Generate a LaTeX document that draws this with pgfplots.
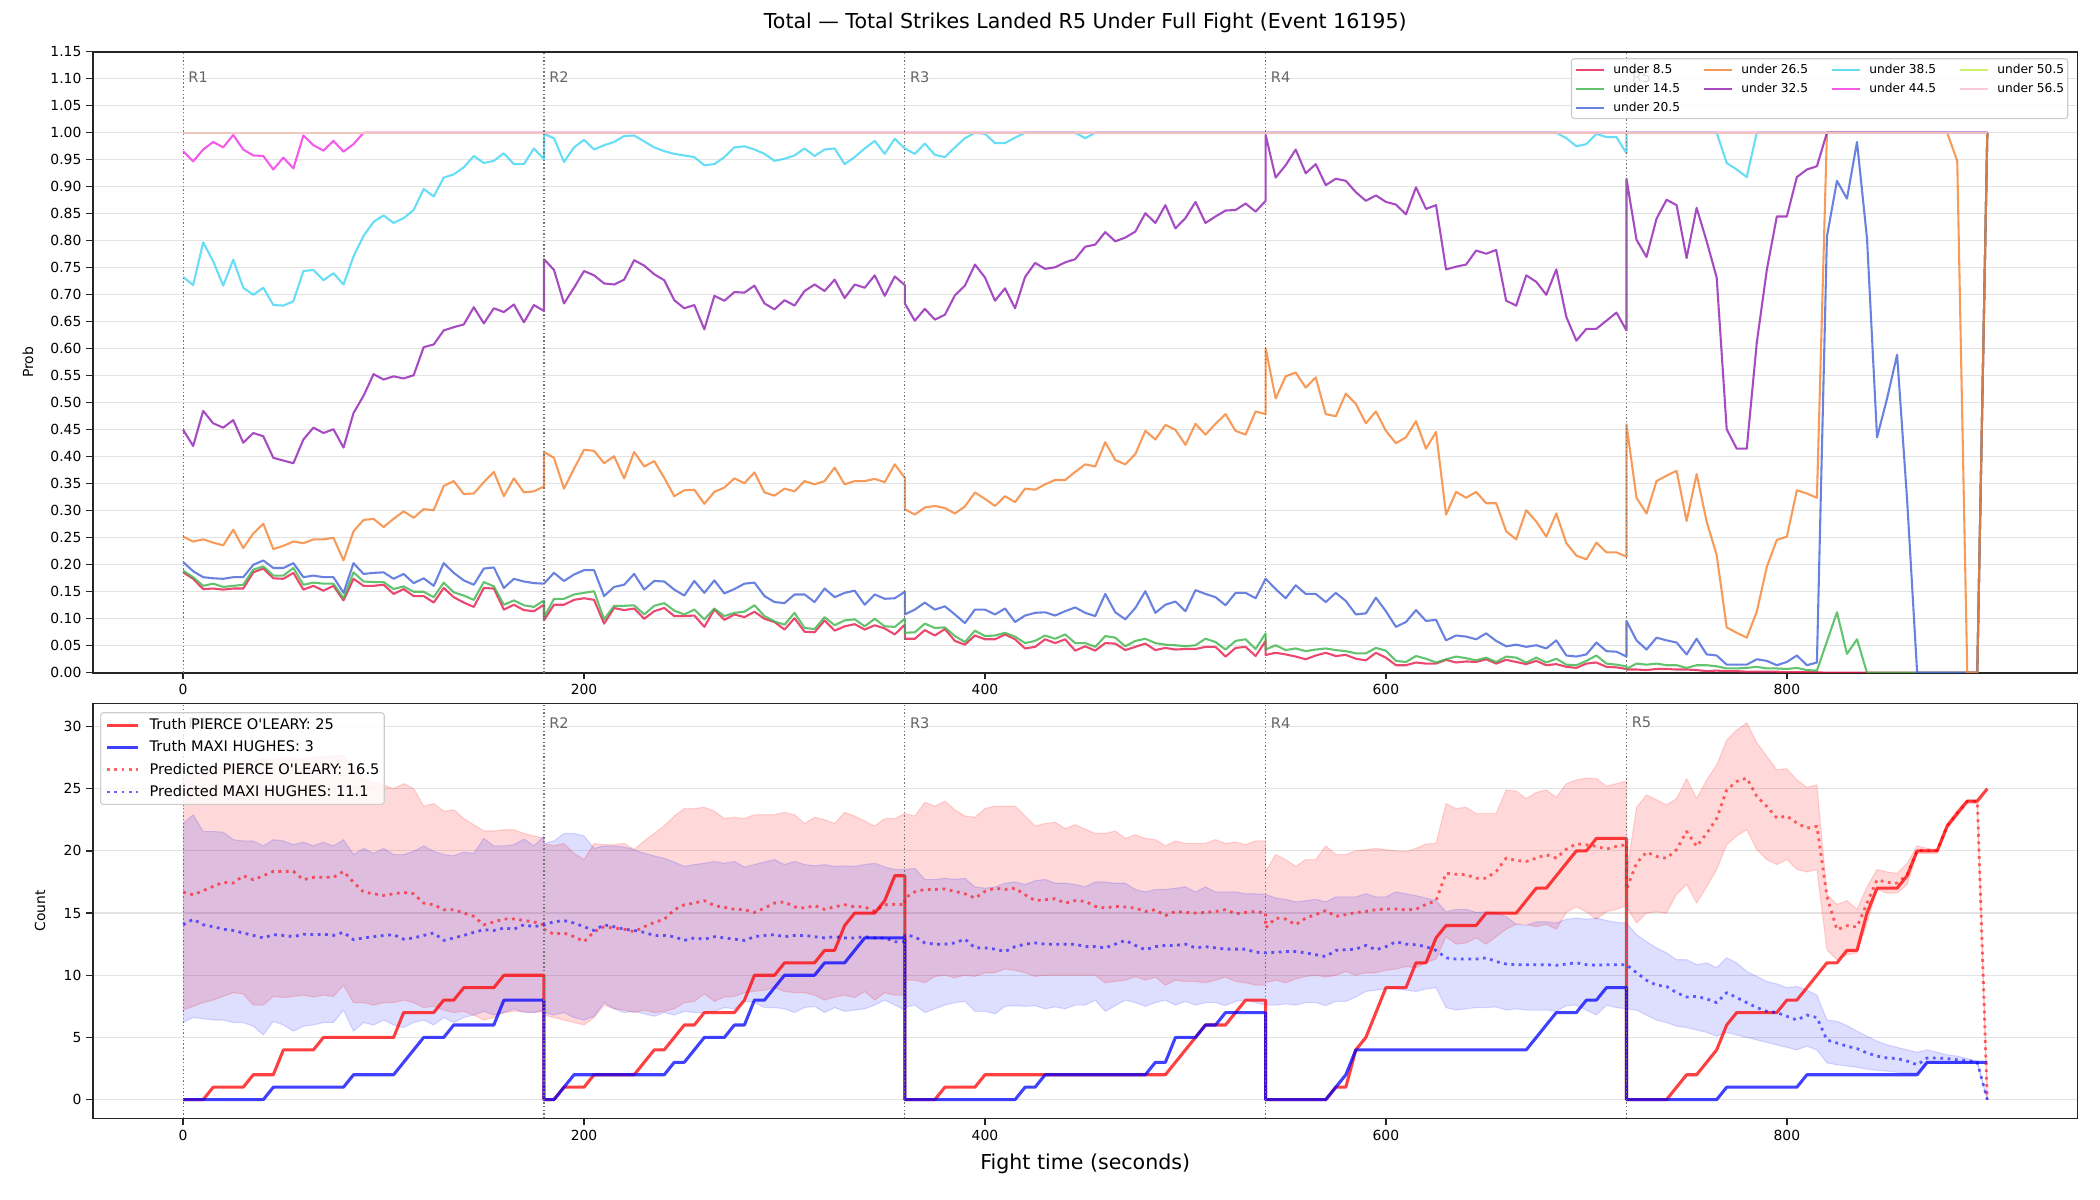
\documentclass[border=0pt]{standalone}
\usepackage{fontspec}
\setmainfont{DejaVu Sans}
\usepackage{pgfplots}
\usepackage{pgfplotstable}
\pgfplotsset{compat=1.18}

\definecolor{c8}{HTML}{E6194B}
\definecolor{c14}{HTML}{3CB44B}
\definecolor{c20}{HTML}{4363D8}
\definecolor{c26}{HTML}{F58231}
\definecolor{c32}{HTML}{911EB4}
\definecolor{c38}{HTML}{42D4F4}
\definecolor{c44}{HTML}{F032E6}
\definecolor{c50}{HTML}{BFEF45}
\definecolor{c56}{HTML}{FABED4}

% Probability that the total lands under each line, sampled every 5 s.
% Rows at 180/360/540/720 appear twice: end of one round, start of the next.
\pgfplotstableread{
t u8 u14 u20 u26 u32 u38 u44
0 0.186 0.189 0.205 0.252 0.450 0.733 0.966
5 0.174 0.177 0.188 0.243 0.420 0.718 0.947
10 0.155 0.161 0.177 0.247 0.485 0.797 0.969
15 0.156 0.165 0.175 0.241 0.462 0.762 0.983
20 0.154 0.159 0.174 0.236 0.454 0.717 0.973
25 0.156 0.161 0.177 0.265 0.468 0.765 0.996
30 0.156 0.163 0.177 0.231 0.426 0.713 0.969
35 0.186 0.191 0.200 0.258 0.444 0.700 0.958
40 0.193 0.197 0.208 0.276 0.438 0.713 0.957
45 0.175 0.180 0.194 0.229 0.398 0.681 0.932
50 0.174 0.180 0.194 0.235 0.393 0.680 0.954
55 0.185 0.194 0.203 0.243 0.388 0.688 0.934
60 0.154 0.163 0.177 0.240 0.432 0.744 0.995
65 0.161 0.167 0.180 0.247 0.454 0.746 0.977
70 0.152 0.165 0.177 0.247 0.444 0.727 0.967
75 0.161 0.165 0.177 0.250 0.451 0.740 0.985
80 0.134 0.138 0.148 0.208 0.417 0.719 0.965
85 0.174 0.186 0.203 0.262 0.481 0.771 0.979
90 0.161 0.169 0.183 0.283 0.513 0.809 1
95 0.161 0.168 0.185 0.285 0.553 0.835 1
100 0.163 0.168 0.186 0.270 0.543 0.847 1
105 0.146 0.155 0.174 0.285 0.549 0.833 1
110 0.155 0.160 0.183 0.299 0.545 0.842 1
115 0.142 0.150 0.166 0.287 0.551 0.857 1
120 0.142 0.150 0.175 0.303 0.603 0.896 1
125 0.130 0.140 0.161 0.301 0.608 0.882 1
130 0.157 0.167 0.203 0.346 0.634 0.917 1
135 0.140 0.149 0.185 0.355 0.640 0.923 1
140 0.130 0.143 0.171 0.331 0.645 0.936 1
145 0.122 0.135 0.163 0.332 0.677 0.957 1
150 0.157 0.168 0.193 0.353 0.647 0.944 1
155 0.156 0.160 0.195 0.372 0.675 0.948 1
160 0.117 0.126 0.157 0.327 0.668 0.962 1
165 0.126 0.134 0.174 0.360 0.682 0.942 1
170 0.116 0.125 0.169 0.334 0.649 0.942 1
175 0.114 0.122 0.166 0.336 0.681 0.971 1
180 0.126 0.134 0.165 0.345 0.670 0.951 1
180 0.097 0.102 0.165 0.409 0.766 0.998 1
185 0.126 0.137 0.185 0.398 0.746 0.990 1
190 0.126 0.137 0.170 0.341 0.684 0.946 1
195 0.135 0.145 0.182 0.378 0.713 0.973 1
200 0.138 0.148 0.190 0.413 0.744 0.987 1
205 0.135 0.151 0.190 0.411 0.736 0.969 1
210 0.091 0.099 0.142 0.388 0.721 0.977 1
215 0.120 0.124 0.159 0.401 0.719 0.983 1
220 0.116 0.124 0.163 0.360 0.728 0.994 1
225 0.119 0.125 0.183 0.409 0.764 0.995 1
230 0.100 0.108 0.154 0.382 0.754 0.984 1
235 0.114 0.124 0.170 0.392 0.738 0.973 1
240 0.120 0.129 0.169 0.361 0.727 0.966 1
245 0.105 0.115 0.154 0.327 0.690 0.961 1
250 0.105 0.108 0.143 0.338 0.675 0.958 1
255 0.106 0.117 0.170 0.339 0.681 0.955 1
260 0.085 0.099 0.148 0.313 0.636 0.940 1
265 0.117 0.119 0.171 0.335 0.698 0.942 1
270 0.098 0.105 0.147 0.343 0.689 0.955 1
275 0.108 0.111 0.155 0.360 0.705 0.973 1
280 0.103 0.113 0.165 0.351 0.704 0.975 1
285 0.113 0.125 0.167 0.371 0.717 0.969 1
290 0.100 0.105 0.142 0.334 0.684 0.961 1
295 0.094 0.095 0.131 0.328 0.673 0.948 1
300 0.080 0.089 0.129 0.341 0.690 0.952 1
305 0.101 0.111 0.145 0.336 0.680 0.958 1
310 0.076 0.083 0.145 0.355 0.707 0.971 1
315 0.075 0.081 0.131 0.349 0.719 0.957 1
320 0.097 0.103 0.156 0.355 0.707 0.969 1
325 0.078 0.088 0.140 0.380 0.728 0.971 1
330 0.086 0.097 0.148 0.349 0.694 0.942 1
335 0.090 0.099 0.152 0.355 0.719 0.955 1
340 0.080 0.086 0.126 0.355 0.713 0.971 1
345 0.088 0.100 0.145 0.359 0.736 0.985 1
350 0.082 0.086 0.137 0.353 0.698 0.961 1
355 0.071 0.085 0.138 0.386 0.734 0.989 1
360 0.089 0.100 0.150 0.361 0.718 0.971 1
360 0.063 0.074 0.108 0.303 0.684 0.971 1
365 0.063 0.075 0.117 0.293 0.652 0.961 1
370 0.079 0.091 0.130 0.306 0.674 0.980 1
375 0.069 0.083 0.117 0.309 0.654 0.959 1
380 0.081 0.084 0.123 0.305 0.663 0.955 1
385 0.059 0.068 0.108 0.295 0.699 0.973 1
390 0.052 0.057 0.092 0.308 0.717 0.990 1
395 0.069 0.078 0.117 0.334 0.756 1 1
400 0.062 0.068 0.117 0.322 0.732 0.998 1
405 0.062 0.069 0.108 0.309 0.689 0.981 1
410 0.071 0.074 0.119 0.327 0.712 0.981 1
415 0.062 0.067 0.094 0.316 0.675 0.991 1
420 0.045 0.055 0.106 0.341 0.733 1 1
425 0.048 0.059 0.111 0.339 0.759 1 1
430 0.062 0.069 0.112 0.349 0.748 1 1
435 0.055 0.063 0.106 0.357 0.751 1 1
440 0.062 0.071 0.114 0.357 0.760 1 1
445 0.041 0.055 0.121 0.372 0.766 1 1
450 0.049 0.055 0.111 0.386 0.789 0.990 1
455 0.041 0.048 0.105 0.382 0.793 1 1
460 0.055 0.068 0.146 0.427 0.816 1 1
465 0.054 0.065 0.112 0.394 0.799 1 1
470 0.042 0.049 0.099 0.386 0.806 1 1
475 0.048 0.059 0.120 0.405 0.817 1 1
480 0.054 0.063 0.151 0.448 0.851 1 1
485 0.042 0.055 0.111 0.432 0.833 1 1
490 0.046 0.052 0.126 0.459 0.866 1 1
495 0.043 0.051 0.132 0.450 0.823 1 1
500 0.044 0.049 0.114 0.422 0.842 1 1
505 0.044 0.051 0.153 0.461 0.872 1 1
510 0.048 0.063 0.146 0.441 0.833 1 1
515 0.048 0.057 0.140 0.461 0.845 1 1
520 0.030 0.043 0.125 0.479 0.856 1 1
525 0.046 0.059 0.148 0.448 0.857 1 1
530 0.048 0.062 0.148 0.441 0.869 1 1
535 0.031 0.044 0.138 0.484 0.854 1 1
540 0.059 0.073 0.174 0.479 0.874 1 1
540 0.033 0.043 0.174 0.601 0.996 1 1
545 0.037 0.051 0.155 0.508 0.917 1 1
550 0.034 0.042 0.138 0.549 0.940 1 1
555 0.030 0.045 0.162 0.556 0.969 1 1
560 0.025 0.040 0.146 0.528 0.925 1 1
565 0.032 0.043 0.146 0.547 0.942 1 1
570 0.037 0.045 0.131 0.479 0.903 1 1
575 0.031 0.042 0.148 0.475 0.915 1 1
580 0.033 0.040 0.133 0.517 0.911 1 1
585 0.026 0.036 0.108 0.498 0.890 1 1
590 0.023 0.036 0.110 0.462 0.874 1 1
595 0.037 0.046 0.139 0.484 0.884 1 1
600 0.028 0.041 0.114 0.448 0.872 1 1
605 0.014 0.022 0.085 0.425 0.867 1 1
610 0.014 0.020 0.094 0.436 0.849 1 1
615 0.019 0.031 0.116 0.466 0.899 1 1
620 0.017 0.026 0.096 0.415 0.859 1 1
625 0.017 0.019 0.098 0.446 0.866 1 1
630 0.024 0.025 0.060 0.293 0.747 1 1
635 0.019 0.030 0.069 0.335 0.752 1 1
640 0.021 0.027 0.067 0.324 0.756 1 1
645 0.020 0.023 0.062 0.335 0.782 1 1
650 0.025 0.028 0.073 0.314 0.776 1 1
655 0.017 0.020 0.059 0.314 0.783 1 1
660 0.024 0.030 0.049 0.262 0.689 1 1
665 0.020 0.028 0.052 0.247 0.680 1 1
670 0.016 0.019 0.048 0.301 0.736 1 1
675 0.022 0.028 0.051 0.280 0.724 1 1
680 0.014 0.019 0.045 0.252 0.700 1 1
685 0.016 0.026 0.060 0.295 0.747 1 1
690 0.011 0.015 0.032 0.240 0.659 0.990 1
695 0.009 0.014 0.030 0.217 0.615 0.975 1
700 0.017 0.022 0.034 0.210 0.637 0.979 1
705 0.019 0.032 0.056 0.241 0.637 0.998 1
710 0.011 0.017 0.040 0.223 0.652 0.992 1
715 0.010 0.015 0.039 0.223 0.667 0.992 1
720 0.007 0.012 0.030 0.215 0.634 0.962 1
720 0.006 0.007 0.096 0.460 0.915 1 1
725 0.006 0.017 0.060 0.324 0.802 1 1
730 0.005 0.015 0.043 0.295 0.770 1 1
735 0.007 0.017 0.065 0.355 0.841 1 1
740 0.007 0.014 0.060 0.365 0.876 1 1
745 0.006 0.014 0.056 0.374 0.866 1 1
750 0.006 0.009 0.034 0.281 0.768 1 1
755 0.005 0.014 0.063 0.368 0.861 1 1
760 0.003 0.014 0.034 0.280 0.799 1 1
765 0.004 0.012 0.032 0.218 0.732 1 1
770 0.003 0.008 0.015 0.084 0.451 0.944 1
775 0.003 0.008 0.015 0.074 0.415 0.932 1
780 0.002 0.009 0.015 0.065 0.415 0.918 1
785 0.002 0.011 0.025 0.113 0.611 1 1
790 0.002 0.008 0.022 0.196 0.746 1 1
795 0.002 0.008 0.014 0.246 0.845 1 1
800 0.001 0.007 0.020 0.252 0.845 1 1
805 0.001 0.009 0.032 0.338 0.918 1 1
810 0.001 0.005 0.014 0.332 0.932 1 1
815 0.001 0.004 0.019 0.324 0.938 1 1
820 0 0.058 0.808 1 1 1 1
825 0 0.112 0.911 1 1 1 1
830 0 0.035 0.878 1 1 1 1
835 0 0.062 0.983 1 1 1 1
840 0 0 0.804 1 1 1 1
845 0 0 0.436 1 1 1 1
850 0 0 0.508 1 1 1 1
855 0 0 0.589 1 1 1 1
860 0 0 0.320 1 1 1 1
865 0 0 0 1 1 1 1
870 0 0 0 1 1 1 1
875 0 0 0 1 1 1 1
880 0 0 0 1 1 1 1
885 0 0 0 0.948 1 1 1
890 0 0 0 0 1 1 1
895 0 0 0 0 1 1 1
900 1 1 1 1 1 1 1
}\probtable

% Strike counts: truth (tr, tb), prediction (pr, pb) and its band (lo/hi).
\pgfplotstableread{
t tr tb pr prlo prhi pb pblo pbhi
0 0 0 16.69 7.2 26.0 14.06 6.2 22.2
5 0 0 16.47 7.5 26.2 14.5 6.6 22.9
10 0 0 16.8 7.8 26.4 14.06 6.5 21.56
15 1 0 17.14 8.0 26.6 13.9 6.4 21.56
20 1 0 17.47 8.3 26.8 13.7 6.4 21.5
25 1 0 17.41 8.6 27.0 13.6 6.2 20.9
30 1 0 18.0 8.5 27.0 13.4 6.2 20.8
35 2 0 17.68 7.6 27.2 13.2 5.9 20.8
40 2 0 18.0 7.6 27.4 13.0 5.2 20.4
45 2 1 18.35 8.3 27.3 13.26 6.3 20.9
50 4 1 18.35 8.2 27.5 13.2 6.0 20.8
55 4 1 18.35 8.3 27.4 13.1 5.5 20.5
60 4 1 17.68 8.4 27.4 13.3 5.9 20.7
65 4 1 17.87 8.25 27.5 13.26 6.0 20.4
70 5 1 17.87 8.4 27.6 13.3 6.2 20.7
75 5 1 17.87 8.3 27.6 13.2 6.2 20.4
80 5 1 18.35 9.2 27.7 13.45 7.2 20.9
85 5 2 17.47 7.8 26.5 12.86 5.5 19.7
90 5 2 16.69 7.8 25.8 13.0 6.2 20.2
95 5 2 16.55 7.6 25.5 13.1 6.0 19.8
100 5 2 16.42 7.8 25.3 13.2 6.4 20.2
105 5 2 16.55 7.8 25.0 13.26 6.0 19.7
110 7 3 16.66 8.0 25.4 12.9 5.8 19.7
115 7 4 16.55 7.8 25.0 13.0 6.2 19.96
120 7 5 15.8 7.4 23.6 13.2 6.4 20.4
125 7 5 15.67 7.5 23.8 13.4 6.0 19.96
130 8 5 15.27 7.2 23.2 12.8 6.6 19.7
135 8 6 15.27 7.0 23.3 13.0 6.2 19.6
140 9 6 15.0 7.1 22.6 13.2 6.6 19.9
145 9 6 14.73 6.8 22.1 13.45 6.8 19.8
150 9 6 14.06 6.4 21.6 13.66 7.1 21.0
155 9 6 14.28 6.6 21.6 13.6 6.8 20.4
160 10 8 14.52 7.0 21.7 13.8 7.0 20.4
165 10 8 14.52 7.1 21.7 13.7 7.3 20.5
170 10 8 14.41 7.1 21.4 14.06 7.0 20.95
175 10 8 14.28 7.0 21.2 13.9 7.0 20.4
180 10 8 14.06 7.1 21.0 14.06 7.2 21.2
180 0 0 13.7 6.8 20.6 14.06 7.0 20.6
185 0 0 13.3 6.6 20.4 14.3 6.8 20.8
190 1 1 13.4 6.4 20.6 14.4 7.0 21.4
195 1 2 13.1 6.2 19.8 14.2 6.6 21.4
200 1 2 12.7 6.0 19.3 13.9 6.4 21.2
205 2 2 13.5 6.6 20.6 13.6 6.7 20.2
210 2 2 13.9 7.6 20.5 14.06 7.8 20.4
215 2 2 13.8 7.3 20.5 13.9 7.3 20.4
220 2 2 13.7 7.2 20.6 13.7 7.0 20.3
225 2 2 13.5 7.0 20.1 13.6 7.1 20.1
230 3 2 13.9 7.2 20.8 13.45 6.9 19.8
235 4 2 14.25 7.0 21.4 13.2 6.7 19.6
240 4 2 14.5 7.1 22.0 13.2 7.0 19.4
245 5 3 15.27 7.3 22.8 13.1 6.8 19.1
250 6 3 15.67 7.8 23.4 12.8 7.1 18.75
255 6 4 15.8 7.9 23.4 13.0 7.0 18.9
260 7 5 16.0 8.5 23.5 12.9 7.0 19.0
265 7 5 15.6 7.9 23.2 13.1 7.1 19.15
270 7 5 15.46 8.25 22.6 13.0 7.4 19.0
275 7 6 15.3 8.3 22.7 12.9 7.3 19.15
280 8 6 15.27 8.6 22.6 12.8 7.9 18.7
285 10 8 15.05 8.7 22.9 13.1 7.8 18.9
290 10 8 15.4 8.8 22.9 13.2 7.4 19.1
295 10 9 15.8 9.0 22.9 13.26 7.4 19.3
300 11 10 15.9 8.7 23.1 13.1 7.3 18.9
305 11 10 15.5 8.6 22.9 13.2 7.0 19.15
310 11 10 15.4 8.6 22.2 13.2 7.4 18.9
315 11 10 15.6 8.4 22.7 13.1 7.5 18.8
320 12 11 15.3 8.0 22.5 13.0 7.0 18.9
325 12 11 15.5 8.25 22.2 13.1 7.4 18.75
330 14 11 15.67 8.4 23.1 13.0 7.1 18.8
335 15 12 15.5 8.2 22.8 13.0 7.2 18.75
340 15 13 15.5 8.7 22.4 13.1 7.3 18.9
345 15 13 15.13 8.0 22.0 13.0 7.6 19.0
350 16 13 15.67 8.6 22.6 13.0 8.0 18.7
355 18 13 15.7 8.4 22.6 12.7 7.6 18.5
360 18 13 15.67 8.4 23.0 12.7 7.2 18.5
360 0 0 16.2 9.6 23.0 13.26 7.4 18.5
365 0 0 16.7 9.6 22.8 13.1 7.6 18.6
370 0 0 16.9 9.4 23.9 12.6 7.0 17.7
375 0 0 16.9 9.9 23.6 12.5 7.3 17.7
380 1 0 16.93 10.0 24.0 12.5 7.6 17.8
385 1 0 16.74 9.8 23.3 12.6 7.8 17.7
390 1 0 16.55 10.0 22.8 12.9 7.9 17.8
395 1 0 16.2 9.9 22.7 12.2 7.1 17.1
400 2 0 16.74 10.2 23.4 12.2 7.1 17.0
405 2 0 17.0 10.2 23.6 12.1 6.9 17.1
410 2 0 16.9 10.5 23.6 11.9 7.5 17.4
415 2 0 17.0 10.4 23.6 12.3 7.55 17.5
420 2 1 16.47 10.2 22.8 12.5 7.5 17.3
425 2 1 16.0 9.9 22.0 12.6 7.55 17.6
430 2 2 16.07 10.0 22.2 12.5 7.3 17.7
435 2 2 16.15 10.0 22.3 12.5 7.45 17.4
440 2 2 15.8 10.0 21.8 12.5 7.3 17.4
445 2 2 16.0 10.0 22.1 12.5 7.6 17.3
450 2 2 15.94 10.0 21.75 12.3 7.6 17.1
455 2 2 15.54 10.0 21.4 12.3 8.0 17.5
460 2 2 15.4 9.4 21.4 12.2 7.1 17.5
465 2 2 15.54 9.5 21.6 12.5 7.55 17.4
470 2 2 15.48 9.6 21.0 12.8 8.0 17.4
475 2 2 15.4 9.9 21.3 12.4 7.8 16.9
480 2 2 15.13 9.6 21.0 12.05 7.5 16.7
485 2 3 15.27 9.85 20.9 12.3 7.8 16.9
490 2 3 14.8 9.2 20.4 12.4 8.0 16.9
495 3 5 15.13 9.6 20.8 12.4 7.6 17.0
500 4 5 15.05 9.5 20.6 12.5 7.9 17.1
505 5 5 15.0 9.5 20.6 12.2 7.6 16.7
510 6 6 15.05 9.4 20.6 12.3 7.8 17.1
515 6 6 15.13 9.6 20.9 12.2 7.8 16.7
520 6 7 15.27 9.85 20.6 12.1 7.55 16.7
525 7 7 14.95 9.5 20.7 12.1 7.9 16.7
530 8 7 15.05 9.4 20.5 12.1 8.0 16.55
535 8 7 15.13 9.2 20.8 11.85 7.8 16.55
540 8 7 15.0 9.2 20.8 11.8 7.6 16.5
540 0 0 13.8 9.4 18.35 11.8 7.6 16.5
545 0 0 14.6 9.6 19.7 11.85 7.6 16.2
550 0 0 14.52 9.4 19.3 11.9 7.7 16.1
555 0 0 14.06 9.7 18.75 11.9 7.6 15.9
560 0 0 14.6 9.9 19.3 11.8 7.8 16.0
565 0 0 14.87 10.0 19.3 11.65 7.8 16.1
570 0 0 15.2 9.85 20.4 11.5 7.55 15.9
575 1 1 14.73 10.0 19.7 12.0 7.9 16.3
580 1 2 14.87 10.3 19.7 12.05 7.9 16.3
585 4 4 15.05 10.0 20.0 12.1 8.25 16.3
590 5 4 15.13 10.2 20.1 12.4 8.7 16.55
595 7 4 15.27 10.2 20.2 12.05 8.8 16.3
600 9 4 15.32 10.4 20.1 12.3 8.9 16.3
605 9 4 15.32 10.5 20.0 12.7 8.9 16.7
610 9 4 15.25 10.7 19.95 12.5 8.8 16.55
615 11 4 15.3 10.6 20.2 12.45 8.7 16.4
620 11 4 15.7 11.0 20.55 12.3 8.9 16.2
625 13 4 16.0 11.3 20.6 12.0 9.0 16.0
630 14 4 18.2 13.1 23.8 11.4 7.4 15.1
635 14 4 18.12 12.5 23.4 11.3 7.2 15.3
640 14 4 18.08 12.6 23.5 11.3 7.3 15.3
645 14 4 17.8 13.0 23.0 11.3 7.4 15.05
650 15 4 17.8 12.5 23.0 11.4 7.4 15.1
655 15 4 18.35 13.1 23.0 11.1 7.45 15.05
660 15 4 19.42 13.7 24.9 10.9 7.2 14.7
665 15 4 19.23 14.1 24.8 10.85 7.3 14.1
670 16 4 19.15 14.1 24.2 10.85 7.2 14.0
675 17 5 19.42 13.9 24.7 10.85 7.2 14.3
680 17 6 19.69 14.1 24.9 10.85 7.2 14.3
685 18 7 19.42 13.7 24.3 10.8 7.1 14.2
690 19 7 20.14 15.05 25.4 10.9 7.55 14.5
695 20 7 20.57 15.5 25.7 11.0 7.6 14.6
700 20 8 20.49 15.1 25.85 10.85 7.2 14.5
705 21 8 20.36 14.5 25.8 10.8 6.8 14.6
710 21 9 20.14 15.1 25.2 10.85 7.6 14.4
715 21 9 20.36 15.3 25.4 10.85 7.4 14.25
720 21 9 20.49 15.6 25.6 10.85 7.3 14.2
720 0 0 16.9 15.5 18.0 10.85 7.3 14.2
725 0 0 19.0 14.2 23.5 10.2 7.2 13.26
730 0 0 19.9 15.0 24.5 9.6 6.8 12.7
735 0 0 19.55 15.1 24.1 9.2 6.4 12.2
740 0 0 19.4 15.0 23.7 9.1 6.2 11.8
745 1 0 20.1 16.5 24.2 8.6 5.9 11.25
750 2 0 21.56 17.3 25.8 8.25 5.8 11.25
755 2 0 20.36 15.8 24.2 8.3 5.6 10.85
760 3 0 21.4 17.1 25.7 8.1 5.4 11.0
765 4 0 22.6 18.5 26.9 7.8 5.1 10.6
770 6 1 24.9 20.5 28.9 8.6 5.4 11.4
775 7 1 25.58 21.2 29.7 8.2 5.2 11.0
780 7 1 25.85 21.7 30.3 7.8 5.0 10.3
785 7 1 24.38 20.1 28.7 7.4 4.8 9.9
790 7 1 23.57 19.3 27.6 7.1 4.6 9.5
795 7 1 22.64 18.9 26.5 7.0 4.4 9.3
800 8 1 22.8 19.3 26.6 6.7 4.2 9.0
805 8 1 22.23 18.5 25.7 6.4 4.0 9.1
810 9 2 21.83 18.3 25.1 6.8 4.3 8.8
815 10 2 21.97 18.5 25.3 6.6 4.0 8.4
820 11 2 16.34 12.05 16.5 4.8 2.95 6.4
825 11 2 13.66 11.25 15.7 4.55 2.8 6.3
830 12 2 13.98 11.65 16.0 4.3 2.7 5.95
835 12 2 13.88 11.8 15.3 4.1 2.6 5.5
840 15 2 15.8 14.2 17.1 3.75 2.45 5.1
845 17 2 17.68 16.9 18.5 3.5 2.35 4.7
850 17 2 17.47 16.6 18.3 3.35 2.3 4.4
855 17 2 17.41 16.6 18.2 3.3 2.2 4.2
860 18 2 18.08 17.3 19.0 3.1 2.15 4.0
865 20 2 20.04 19.8 20.4 2.8 2.15 3.8
870 20 3 20.04 19.8 20.2 3.35 2.95 4.0
875 20 3 20.04 19.8 20.1 3.35 2.9 3.8
880 22 3 22.0 21.8 22.2 3.3 2.9 3.6
885 23 3 23.04 22.8 23.3 3.2 2.9 3.5
890 24 3 23.97 23.8 24.1 3.15 2.9 3.3
895 24 3 23.97 23.8 24.1 3.0 2.9 3.1
900 25 3 0 0 0 0 0 0
}\counttable

\pgfplotsset{
  fightaxis/.style={
    scale only axis, width=1429pt,
    xmin=-45, xmax=945,
    xtick={0,200,400,600,800},
    tick pos=left, tick align=outside,
    major tick length=4.8pt,
    tick style={black!85, line width=1pt},
    axis line style={black!85, line width=1.25pt},
    ymajorgrids,
    major grid style={black!11, line width=0.9pt},
    tick label style={font=\fontsize{10}{12}\selectfont},
    /pgf/number format/assume math mode=true,
    every axis plot/.append style={line join=round},
  },
  roundline/.style={black!55, line width=0.9pt, dash pattern=on 1pt off 1.65pt, forget plot},
  prob/.style={line width=1.5pt, opacity=0.8, forget plot},
  bandedge/.style={line width=0.8pt, forget plot},
}
\tikzset{
  roundlabel/.style={anchor=west, inner sep=0pt, text=black!60, font=\fontsize{10.5}{12}\selectfont},
}

\begin{document}
\begin{tikzpicture}
\useasboundingbox (0,0) rectangle (1512pt,864pt);

% ---------- upper panel: line probabilities ----------
\begin{axis}[fightaxis,
  at={(66.9pt,379.6pt)}, anchor=south west, height=447.1pt,
  ymin=0, ymax=1.15,
  ytick={0,0.05,0.1,0.15,0.2,0.25,0.3,0.35,0.4,0.45,0.5,0.55,0.6,0.65,0.7,0.75,0.8,0.85,0.9,0.95,1,1.05,1.1,1.15},
  yticklabel style={/pgf/number format/.cd, fixed, fixed zerofill, precision=2},
  xticklabel={},
  ylabel={Prob},
  ylabel style={at={(axis description cs:-0.03268,0.5)}, anchor=center, font=\fontsize{10}{12}\selectfont},
  title={Total — Total Strikes Landed R5 Under Full Fight (Event 16195)},
  title style={at={(axis description cs:0.5,1)}, anchor=center, yshift=15.1pt, font=\fontsize{14.8}{17}\selectfont},
  legend columns=4,
  legend cell align=left,
  legend image code/.code={\draw[#1] (0pt,0pt) -- (20pt,0pt);},
  legend style={at={(1,1)}, anchor=north east, xshift=-6.6pt, yshift=-4.6pt,
    font=\fontsize{8.8}{10}\selectfont,
    draw=black!20, line width=0.8pt, rounded corners=2pt,
    fill=white, fill opacity=0.8, draw opacity=1, text opacity=1,
    inner xsep=2.6pt, inner ysep=1pt,
    nodes={inner sep=0pt, minimum height=13.7pt},
    column sep=6pt,
    /tikz/every even column/.append style={column sep=16.5pt}},
]
\addplot[prob, c8]  table[x=t, y=u8]  {\probtable};
\addplot[prob, c14] table[x=t, y=u14] {\probtable};
\addplot[prob, c20] table[x=t, y=u20] {\probtable};
\addplot[prob, c26] table[x=t, y=u26] {\probtable};
\addplot[prob, c32] table[x=t, y=u32] {\probtable};
\addplot[prob, c38] table[x=t, y=u38] {\probtable};
\addplot[prob, c44] table[x=t, y=u44] {\probtable};
\addplot[prob, c50] coordinates {(0,1) (900,1)};
\addplot[prob, c56] coordinates {(0,1) (900,1)};

\addplot[roundline] coordinates {(0,0) (0,1.15)};
\addplot[roundline] coordinates {(180,0) (180,1.15)};
\addplot[roundline] coordinates {(360,0) (360,1.15)};
\addplot[roundline] coordinates {(540,0) (540,1.15)};
\addplot[roundline] coordinates {(720,0) (720,1.15)};
\node[roundlabel] at (axis cs:2.5,1.103) {R1};
\node[roundlabel] at (axis cs:182.5,1.103) {R2};
\node[roundlabel] at (axis cs:362.5,1.103) {R3};
\node[roundlabel] at (axis cs:542.5,1.103) {R4};
\node[roundlabel] at (axis cs:722.5,1.103) {R5};

\addlegendimage{c8, line width=1.5pt, opacity=0.8}\addlegendentry{under 8.5}
\addlegendimage{c26, line width=1.5pt, opacity=0.8}\addlegendentry{under 26.5}
\addlegendimage{c38, line width=1.5pt, opacity=0.8}\addlegendentry{under 38.5}
\addlegendimage{c50, line width=1.5pt, opacity=0.8}\addlegendentry{under 50.5}
\addlegendimage{c14, line width=1.5pt, opacity=0.8}\addlegendentry{under 14.5}
\addlegendimage{c32, line width=1.5pt, opacity=0.8}\addlegendentry{under 32.5}
\addlegendimage{c44, line width=1.5pt, opacity=0.8}\addlegendentry{under 44.5}
\addlegendimage{c56, line width=1.5pt, opacity=0.8}\addlegendentry{under 56.5}
\addlegendimage{c20, line width=1.5pt, opacity=0.8}\addlegendentry{under 20.5}
\end{axis}

% ---------- lower panel: strike counts ----------
\begin{axis}[fightaxis,
  at={(66.9pt,58.7pt)}, anchor=south west, height=298.8pt,
  ymin=-1.515, ymax=31.85,
  ytick={0,5,10,15,20,25,30},
  ylabel={Count},
  ylabel style={at={(axis description cs:-0.02659,0.5)}, anchor=center, font=\fontsize{10}{12}\selectfont},
  xlabel={Fight time (seconds)},
  xlabel style={at={(axis description cs:0.5,0)}, anchor=center, yshift=-32.6pt, font=\fontsize{14.8}{17}\selectfont},
  legend cell align=left,
  legend image code/.code={\draw[#1] (0pt,0pt) -- (22pt,0pt);},
  legend style={at={(0,1)}, anchor=north west, xshift=5.1pt, yshift=-6.3pt,
    font=\fontsize{10.5}{12}\selectfont,
    draw=black!20, line width=0.8pt, rounded corners=2pt,
    fill=white, fill opacity=0.8, draw opacity=1, text opacity=1,
    inner xsep=3.5pt, inner ysep=1pt,
    nodes={inner sep=0pt, minimum height=16pt},
    column sep=7.6pt},
]
% prediction bands, stacked: low edge, then the band width on top of it
\addplot[draw=none, stack plots=y, forget plot] table[x=t, y=prlo] {\counttable};
\addplot[draw=none, fill=red, fill opacity=0.15, stack plots=y, forget plot]
  table[x=t, y expr=\thisrow{prhi}-\thisrow{prlo}] {\counttable} \closedcycle;
\addplot[draw=none, stack plots=y, forget plot]
  table[x=t, y expr=\thisrow{pblo}-\thisrow{prhi}] {\counttable};
\addplot[draw=none, fill=blue, fill opacity=0.13, stack plots=y, forget plot]
  table[x=t, y expr=\thisrow{pbhi}-\thisrow{pblo}] {\counttable} \closedcycle;
% band edges
\addplot[bandedge, red, opacity=0.15] table[x=t, y=prhi] {\counttable};
\addplot[bandedge, red, opacity=0.15] table[x=t, y=prlo] {\counttable};
\addplot[bandedge, blue, opacity=0.13] table[x=t, y=pbhi] {\counttable};
\addplot[bandedge, blue, opacity=0.13] table[x=t, y=pblo] {\counttable};

% truth
\addplot[red, opacity=0.75, line width=2.2pt, forget plot] table[x=t, y=tr] {\counttable};
\addplot[blue, opacity=0.75, line width=2.2pt, forget plot] table[x=t, y=tb] {\counttable};
% prediction
\addplot[red, opacity=0.6, line width=2pt, dash pattern=on 2pt off 3.3pt, forget plot] table[x=t, y=pr] {\counttable};
\addplot[blue, opacity=0.6, line width=2pt, dash pattern=on 2pt off 3.3pt, forget plot] table[x=t, y=pb] {\counttable};

\addplot[roundline] coordinates {(0,-1.515) (0,31.85)};
\addplot[roundline] coordinates {(180,-1.515) (180,31.85)};
\addplot[roundline] coordinates {(360,-1.515) (360,31.85)};
\addplot[roundline] coordinates {(540,-1.515) (540,31.85)};
\addplot[roundline] coordinates {(720,-1.515) (720,31.85)};
\node[roundlabel] at (axis cs:2.5,30.3) {R1};
\node[roundlabel] at (axis cs:182.5,30.3) {R2};
\node[roundlabel] at (axis cs:362.5,30.3) {R3};
\node[roundlabel] at (axis cs:542.5,30.3) {R4};
\node[roundlabel] at (axis cs:722.5,30.3) {R5};

\addlegendimage{red, opacity=0.75, line width=2.2pt}\addlegendentry{Truth PIERCE O\textquotesingle LEARY: 25}
\addlegendimage{blue, opacity=0.75, line width=2.2pt}\addlegendentry{Truth MAXI HUGHES: 3}
\addlegendimage{red, opacity=0.6, line width=2pt, dash pattern=on 2pt off 3.3pt}\addlegendentry{Predicted PIERCE O\textquotesingle LEARY: 16.5}
\addlegendimage{blue, opacity=0.6, line width=2pt, dash pattern=on 2pt off 3.3pt}\addlegendentry{Predicted MAXI HUGHES: 11.1}
\end{axis}
\end{tikzpicture}
\end{document}
